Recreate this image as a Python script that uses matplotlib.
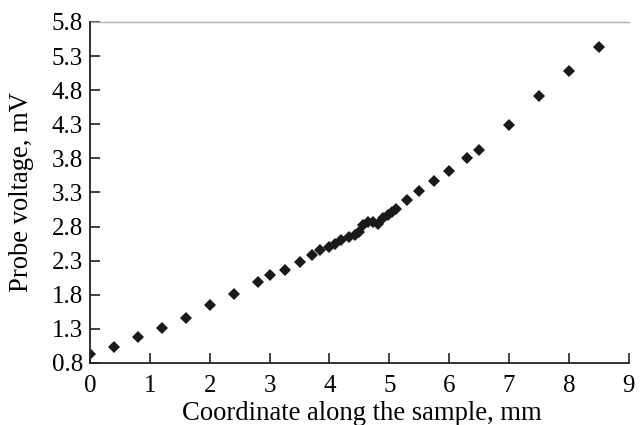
import numpy as np
import matplotlib
matplotlib.use('Agg')
import matplotlib.pyplot as plt

# Coordinate along the sample (mm) and probe voltage (mV)
coord = [0.0, 0.4, 0.8, 1.2, 1.6, 2.0, 2.4, 2.8, 3.0, 3.25, 3.5, 3.7, 3.85,
         4.0, 4.1, 4.2, 4.33, 4.42, 4.5, 4.56, 4.64, 4.72, 4.81, 4.89, 4.97,
         5.04, 5.11, 5.3, 5.5, 5.75, 6.0, 6.3, 6.5, 7.0, 7.5, 8.0, 8.5]
voltage = [0.93, 1.04, 1.18, 1.32, 1.46, 1.65, 1.81, 1.99, 2.09, 2.17, 2.28,
           2.38, 2.45, 2.50, 2.55, 2.60, 2.64, 2.67, 2.72, 2.82, 2.86, 2.87,
           2.84, 2.92, 2.97, 3.01, 3.06, 3.19, 3.32, 3.47, 3.61, 3.80, 3.92,
           4.29, 4.71, 5.08, 5.43]

xticks = [0, 1, 2, 3, 4, 5, 6, 7, 8, 9]
yticks = [0.8, 1.3, 1.8, 2.3, 2.8, 3.3, 3.8, 4.3, 4.8, 5.3, 5.8]

plt.rcParams['font.family'] = ['Liberation Serif', 'DejaVu Serif']

fig = plt.figure(figsize=(6.41, 4.25), dpi=100)
ax = fig.add_axes([0.1404, 0.1459, 0.8406, 0.8024])

ax.plot(coord, voltage, 'D', color='#1a1a1a', markersize=6, markeredgewidth=0)

ax.set_xlim(0, 9)
ax.set_ylim(0.8, 5.8)
ax.set_xticks(xticks)
ax.set_yticks(yticks)
ax.set_yticklabels([f'{v:.1f}' for v in yticks])

# thin gray line along the top of the plot area
ax.axhline(5.8, color='#b0b0b0', linewidth=1.0, clip_on=False)

for side in ['top', 'right']:
    ax.spines[side].set_visible(False)
for side in ['left', 'bottom']:
    ax.spines[side].set_color('#222222')
    ax.spines[side].set_linewidth(1.3)

ax.tick_params(direction='in', length=7, width=1.2, color='#222222',
               labelsize=18)
ax.tick_params(axis='x', pad=9)
ax.tick_params(axis='y', pad=5)

ax.set_xlabel('Coordinate along the sample, mm', fontsize=19.2)
ax.set_ylabel('Probe voltage, mV', fontsize=19.2)
ax.xaxis.set_label_coords(0.505, -0.11)
ax.yaxis.set_label_coords(-0.104, 0.5)

fig.savefig('out.png', dpi=100)
